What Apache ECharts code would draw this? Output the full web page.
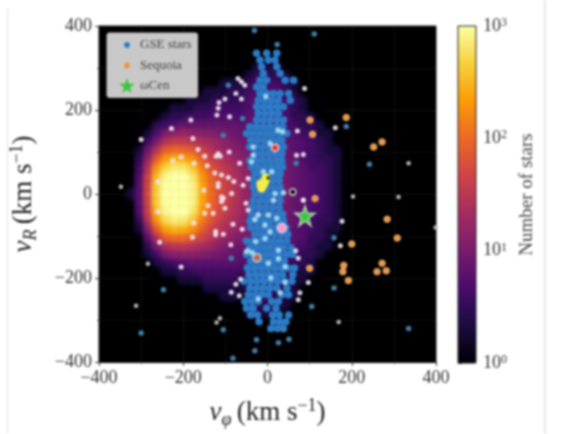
<!DOCTYPE html>
<html><head><meta charset="utf-8">
<style>html,body{margin:0;padding:0;background:#fff}#c{width:588px;height:434px;filter:blur(0.8px)}</style>
<script src="https://cdn.jsdelivr.net/npm/echarts@6/dist/echarts.min.js"></script>
</head><body><div id="c"></div>
<script>
const axisTicks = [-400, -200, 0, 200, 400];
const colorbarTicks = [1, 10, 100, 1000];
const infernoColors = ['#000004','#1b0c41','#4a0c6b','#781c6d','#a52c60','#cf4446','#ed6925','#fb9b06','#f7d13d','#fcffa4'];

const heatColumns = [-360,-340,-320,-300,-280,-260,-240,-220,-200,-180,-160,-140,-120,-100,-80,-60,-40,-20,0,20,40,60,80,100,120,140,160,180,200];
const heatRowsY = [300,280,260,240,220,200,180,160,140,120,100,80,60,40,20,0,-20,-40,-60,-80,-100,-120,-140,-160,-180,-200,-220,-240,-260,-280,-300];
const heatCounts = [
[0,0,0,0,0,0,0,0,0,0,0,0,0,0,0,1,1,2,2,2,1,0,0,0,0,0,0,0,0],
[0,0,0,0,0,0,0,0,0,0,0,0,1,1,1,1,2,3,3,3,2,1,0,0,0,0,0,0,0],
[0,0,0,0,0,0,0,0,1,1,1,1,1,2,2,2,3,4,4,4,3,2,1,0,0,0,0,0,0],
[0,0,0,0,0,0,1,1,1,1,1,2,2,2,3,3,4,5,5,5,3,2,1,1,0,0,0,0,0],
[0,0,0,0,0,1,1,1,1,2,2,2,3,3,3,3,5,6,6,5,4,3,2,1,1,0,0,0,0],
[0,0,0,0,1,1,1,2,2,2,3,3,4,4,4,4,5,6,6,6,4,3,2,1,1,0,0,0,0],
[0,0,0,0,1,1,2,3,3,4,4,4,5,5,5,5,6,7,7,6,5,3,3,2,1,1,0,0,0],
[0,0,0,1,1,3,4,5,7,7,7,7,7,7,7,6,7,8,8,7,5,4,3,3,2,1,1,0,0],
[0,0,0,1,2,5,10,14,16,14,13,12,10,9,8,7,8,9,9,8,6,5,4,3,2,2,1,0,0],
[0,0,0,1,4,10,25,35,35,30,24,20,16,13,10,8,9,10,10,9,7,6,5,4,3,2,1,1,0],
[0,0,0,2,8,28,75,100,90,70,44,30,20,15,13,10,10,11,11,10,8,6,5,4,3,2,2,1,0],
[0,0,0,3,15,70,200,280,240,170,80,45,30,22,16,12,11,12,12,11,8,7,5,4,3,3,2,1,0],
[0,0,1,4,25,170,450,650,600,340,130,65,42,30,21,14,12,13,13,11,9,7,6,4,4,3,2,1,0],
[0,0,1,5,40,300,800,1000,1000,600,200,90,50,34,24,16,13,14,14,12,9,7,6,5,4,3,2,1,0],
[0,0,1,6,45,400,950,1000,1000,750,240,100,55,38,26,17,13,15,14,12,9,7,6,5,4,3,2,1,0],
[0,0,2,6,50,430,1000,1000,1000,780,250,105,58,40,27,17,13,14,14,12,10,7,6,5,4,3,2,1,1],
[0,0,1,6,45,400,950,1000,1000,750,240,100,55,38,26,17,13,14,14,12,9,7,6,5,4,3,2,1,0],
[0,0,1,5,40,300,800,1000,1000,600,200,90,50,33,24,16,12,13,13,11,9,7,6,4,4,3,2,1,0],
[0,0,1,3,25,170,480,680,620,350,130,65,40,28,21,14,11,12,12,10,8,7,5,4,3,3,2,1,0],
[0,0,0,2,12,70,210,290,260,170,80,45,30,22,16,12,10,11,11,10,8,6,5,4,3,2,2,1,0],
[0,0,0,1,6,25,75,100,95,70,44,30,20,15,12,10,9,10,10,9,7,6,5,3,3,2,1,1,0],
[0,0,0,1,3,10,22,30,30,26,22,18,13,10,8,8,8,9,9,8,6,5,4,3,2,2,1,0,0],
[0,0,0,0,2,4,9,12,13,13,11,10,9,8,7,6,7,8,8,7,5,4,3,3,2,1,1,0,0],
[0,0,0,0,1,2,3,4,5,6,6,6,6,6,6,5,6,7,7,6,4,3,3,2,1,1,0,0,0],
[0,0,0,0,1,1,2,2,3,3,4,4,4,4,4,3,5,6,6,5,3,3,2,2,1,1,0,0,0],
[0,0,0,0,0,1,1,1,2,2,2,3,3,3,3,2,4,5,5,4,3,2,2,1,1,0,0,0,0],
[0,0,0,0,0,0,1,1,1,1,1,2,2,2,2,2,3,4,4,3,3,2,1,1,0,0,0,0,0],
[0,0,0,0,0,0,0,1,1,1,1,1,1,2,2,1,3,4,3,3,2,2,1,1,0,0,0,0,0],
[0,0,0,0,0,0,0,0,0,1,1,1,1,1,1,1,2,3,3,2,2,1,1,0,0,0,0,0,0],
[0,0,0,0,0,0,0,0,0,0,0,0,1,1,1,1,2,2,2,2,1,1,0,0,0,0,0,0,0],
[0,0,0,0,0,0,0,0,0,0,0,0,0,0,0,1,1,1,1,1,1,0,0,0,0,0,0,0,0]
];

// each row: vR, then the vphi of the GSE stars in that row of the dense band
const gseBandRows = [
[335,-26,-2,22],[319,-18,2,18],[303,-14,22],[287,-10,30],[271,-18,-2,42,62],[255,-26,-10],
[239,-18,-2,14,30,50],[223,-22,-6,10,26,54],[208,-26,-10,6,22,38],[192,-22,-6,10,26],
[176,-26,-10,6,22,38],[160,-42,-26,-10,6,22,36],[144,-50,-34,-18,-2,14,30,46],
[128,-40,-24,-8,8,24,34],[112,-42,-26,-10,6,22,38],[96,-30,-14,2,18,34],[80,-42,-26,-10,6,22,34],
[64,-38,-22,-6,10,26,36],[48,-30,-14,2,18,30],[32,-34,-18,-2,12,28],[16,-34,-18,-2,14,30],
[0,-30,-14,2,16,30],[-16,-34,-18,-2,14,30],[-32,-36,-20,-4,12,28],[-48,-38,-22,-6,10,26,36],
[-64,-42,-26,-10,6,22,38],[-80,-40,-24,-8,8,24,44],[-96,-30,-14,2,18,34,48],[-112,-50,-34,-18,-2,14,30,46],
[-128,-42,-26,-10,6,22,38,56],[-144,-50,-34,-18,-2,14,30,46,60],[-160,-40,-24,-8,8,24,40],
[-176,-48,-32,-16,0,16,32,48,64],[-192,-44,-28,-12,4,20,36,60],[-208,-56,-40,-24,-8,8,24,40,58],
[-224,-42,-26,-10,6,22,46],[-240,-46,-30,-14,2,34,50],[-256,-54,-38,-22,10,26],
[-272,-50,-34,-2,20],[-288,-40,-24,12,28,50],[-304,-20,14,30,44],[-320,8,24,38]
];
const paleStars = [
[-62,267],[-70,275],[-54,259],[-75,239],[-62,226],[-101,226],[-115,218],[-117,204],[-120,188],[-90,184],
[-182,176],[-228,156],[-177,132],[-165,106],[-117,96],[-112,90],[-122,90],[-149,90],[-91,100],[-205,88],[-225,80],
[-174,73],[-143,67],[-66,73],[-125,50],[-109,45],[-93,39],[-80,30],[-117,25],[-117,17],
[-46,37],[-58,21],[-85,1],[-109,-7],[-260,29],[-151,9],[-105,-10],[-109,-18],[-141,-28],[-149,-46],[-129,-46],
[-101,-34],[-51,-22],[-46,-38],[-82,-72],[-60,-84],[-175,-69],[-260,-42],[-123,-89],[-123,-97],
[-105,-96],[-178,-103],[-87,-121],[-50,-137],[-256,-115],[-205,-174],[-64,-203],[-75,-215],[-86,-234],
[-67,-242],[-300,130],[85,-15],[69,92],[85,94],[71,150],[88,251],[161,158],[85,-14],[67,-135],[73,-153],
[177,-65],[173,-123],[97,-211],[77,-235],[73,-252]
];
const grayStars = [[-348,17],[-284,-166],[-312,-266],[-113,-296],[-121,-306],[169,-305],[203,-6],[311,-7],[399,-80],[335,73]];
const dimBlueStars = [
[-31,389],[-93,259],[-59,180],[-105,140],[-86,-153],[-247,-228],[-105,-323],[-300,-331],[-82,-391],[-26,-347],[-30,-373],
[26,-354],[51,-346],[38,-323],[158,-104],[158,-224],[105,-268],[335,-320],[111,381],[23,356],[187,161],[242,71],[68,73]
];
const cyanStars = [
[25,152],[36,148],[-4,232],[-6,-106],[6,-90],[2,-165],[26,-134],[26,-154],[42,-173],[8,-200],[42,-210],[30,-235],
[-22,-250],[-36,-140],[-47,-135],[-6,-74],[2,-50],[22,-58],[-10,53],[10,53],[-34,92],[-34,112],[-38,77],[14,-15],
[18,1],[38,3],[6,120],[-28,-113],[-22,-50],[-30,-61]
];
const sequoiaStars = [
[187,182],[101,176],[107,142],[252,112],[272,124],[113,-11],[284,-60],[308,-105],[200,-119],[100,-177],
[179,-185],[192,-206],[181,-170],[272,-165],[260,-185],[282,-183]
];
const redStars = [[18,110]];
const yellowStars = [[-14,14],[-10,22],[-6,30],[-4,38],[-16,24]];
const darkCentres = [[2,38]];
const pinkStars = [[34,-81]];
const ringStars = [[-25,-152]];
const blackStars = [[60,5]];
const omegaCen = [[89,-52]];

const heatData = [];
heatCounts.forEach((row, r) => row.forEach((count, c) => {
  if (count > 0) heatData.push([heatColumns[c], heatRowsY[r], Math.log10(count)]);
}));
heatData.sort((a, b) => a[2] - b[2]);
const gseBand = [];
gseBandRows.forEach(row => row.slice(1).forEach(x => gseBand.push([x, row[0]])));

const serif = '"Liberation Serif","Times New Roman",serif';
const dot = 'path://M0 0h.01v.01zM100 100h.01v.01zM32 50a18 18 0 1 0 36 0a18 18 0 1 0 -36 0z';
const star = 'path://M50 0L62 36L100 36L69 59L80 96L50 73L20 96L31 59L0 36L38 36z';
const nameRich = {
  i: {fontFamily: serif, fontStyle: 'italic', fontSize: 27, color: '#222', lineHeight: 32},
  sub: {fontFamily: serif, fontStyle: 'italic', fontSize: 18, color: '#222', lineHeight: 32, verticalAlign: 'bottom', padding: [7, 2, 0, 0]},
  n: {fontFamily: serif, fontSize: 27, color: '#222', lineHeight: 32},
  sup: {fontFamily: serif, fontSize: 18, color: '#222', lineHeight: 32, verticalAlign: 'top', padding: [0, 0, 9, 0]}
};
const mainAxis = (name, nameGap, extra) => Object.assign({
  type: 'value', min: -400, max: 400, interval: 200,
  name, nameLocation: 'middle', nameGap,
  nameTextStyle: {rich: nameRich},
  axisLine: {show: true, onZero: false, lineStyle: {color: '#111', width: 1}},
  axisTick: {show: true, length: 4, lineStyle: {color: '#333'}},
  minorTick: {show: true, splitNumber: 2, length: 2, lineStyle: {color: '#555'}},
  splitLine: {show: true, lineStyle: {color: 'rgba(255,255,255,0.07)'}},
  minorSplitLine: {show: true, lineStyle: {color: 'rgba(255,255,255,0.05)'}},
  axisLabel: {fontFamily: serif, fontSize: 18, color: '#333', margin: 7,
    customValues: axisTicks, formatter: v => String(v).replace('-', '\u2212')}
}, extra);

const pts = (name, data, size, color, border, borderWidth, opacity) => ({
  type: 'scatter', name, data, symbol: 'circle', symbolSize: size,
  itemStyle: {color, opacity: opacity || 1, borderColor: border || color, borderWidth: borderWidth || 0},
  silent: true, z: 3
});

const chart = echarts.init(document.getElementById('c'), null, {renderer: 'canvas'});
chart.setOption({
  animation: false,
  backgroundColor: '#fff',
  grid: [
    {left: 99, top: 26, width: 337, height: 336, show: true, backgroundColor: '#000', borderColor: '#111', borderWidth: 1},
    {left: 458, top: 26, width: 18, height: 337, show: true, backgroundColor: 'transparent', borderColor: '#222', borderWidth: 1, z: 6}
  ],
  xAxis: [
    mainAxis('{i|v}{sub|\u03C6} {n|(km s}{sup|\u22121}{n|)}', 35, {gridIndex: 0}),
    {type: 'value', gridIndex: 1, show: false, min: 0, max: 1}
  ],
  yAxis: [
    mainAxis('{i|v}{sub|R} {n|(km s}{sup|\u22121}{n|)}', 59, {gridIndex: 0}),
    {type: 'log', gridIndex: 1, logBase: 10, min: 1, max: 1000, position: 'right',
     name: 'Number of stars', nameLocation: 'middle', nameGap: 42, nameRotate: 90,
     nameTextStyle: {fontFamily: serif, fontSize: 19, color: '#444'},
     axisLine: {show: false},
     axisTick: {show: true, length: 4, lineStyle: {color: '#333'}},
     minorTick: {show: true, splitNumber: 9, length: 2, lineStyle: {color: '#555'}},
     splitLine: {show: false},
     axisLabel: {fontFamily: serif, fontSize: 18, color: '#333', margin: 7,
       customValues: colorbarTicks,
       formatter: v => '10{s|' + Math.round(Math.log10(v)) + '}',
       rich: {s: {fontFamily: serif, fontSize: 12, color: '#333', verticalAlign: 'top', padding: [0, 0, 6, 0]}}}}
  ],
  visualMap: {
    type: 'continuous', seriesIndex: 0, dimension: 2, min: 0, max: 3,
    show: true, calculable: false, realtime: false, hoverLink: false,
    left: 458, top: 26, itemWidth: 18, itemHeight: 337, text: null, showLabel: false,
    inRange: {color: infernoColors}, outOfRange: {color: infernoColors},
    textStyle: {color: 'transparent', fontSize: 1}, formatter: () => '', padding: 0
  },
  legend: {
    orient: 'vertical', left: 107, top: 33, padding: [4, 6, 4, 12], itemGap: 4.5,
    backgroundColor: '#c8c8c8', borderColor: '#bbb', borderWidth: 1, borderRadius: 2,
    itemWidth: 16, itemHeight: 16, selectedMode: false, z: 8,
    textStyle: {fontFamily: serif, fontSize: 13, color: '#444', width: 54},
    itemStyle: {borderWidth: 0},
    data: [
      {name: 'GSE stars', icon: dot},
      {name: 'Sequoia', icon: dot},
      {name: '\u03C9Cen', icon: star}
    ]
  },
  graphic: [
    {type: 'line', silent: true, shape: {x1: 7.5, y1: 8, x2: 7.5, y2: 434}, style: {stroke: '#e2e2e2', lineWidth: 1}},
    {type: 'line', silent: true, shape: {x1: 545, y1: 0, x2: 545, y2: 434}, style: {stroke: '#cfcfcf', lineWidth: 1}}
  ],
  series: [
    {type: 'custom', name: 'density', data: heatData, coordinateSystem: 'cartesian2d', silent: true, z: 2,
     encode: {x: 0, y: 1}, clip: true,
     renderItem: (params, api) => {
       const p = api.coord([api.value(0), api.value(1)]);
       const s = api.size([20, 20]);
       const r = s[0] * 1.15;
       const fill = api.visual('color');
       return {type: 'circle', shape: {cx: p[0], cy: p[1], r},
               style: {fill: {type: 'radial', x: 0.5, y: 0.5, r: 0.5, colorStops: [
                 {offset: 0, color: fill}, {offset: 0.35, color: fill},
                 {offset: 1, color: echarts.color.modifyAlpha(fill, 0)}]}}};
     }},
    pts('GSE stars', gseBand, 7.5, '#2b7cc6'),
    pts('GSE outliers', dimBlueStars, 5.5, '#3f7ea6'),
    pts('pale', paleStars, 5, '#f3e4ee', null, 0, 0.9),
    pts('gray', grayStars, 4.5, '#b5b5b0'),
    pts('cyan', cyanStars, 5.5, '#9ad4ee'),
    pts('Sequoia', sequoiaStars, 6.5, '#f0933c', 'rgba(255,225,190,0.55)', 1),
    pts('red', redStars, 7, '#e8282c', 'rgba(255,230,230,0.7)', 2),
    pts('yellow', yellowStars, 9, '#f4ee4a'),
    pts('dark', darkCentres, 4, '#3a4a20'),
    pts('pink', pinkStars, 10, '#f0a0d0', 'rgba(255,235,245,0.7)', 1),
    pts('ring', ringStars, 8, '#b06a5a', 'rgba(235,235,235,0.8)', 1.5),
    pts('black', blackStars, 6, '#000', '#eee', 1.2),
    {type: 'scatter', name: '\u03C9Cen', data: omegaCen, symbol: star,
     symbolSize: 20, z: 5, silent: true,
     itemStyle: {color: '#3cc43c', opacity: 1, borderColor: 'rgba(215,240,210,0.75)', borderWidth: 1.5}}
  ]
});
</script></body></html>
